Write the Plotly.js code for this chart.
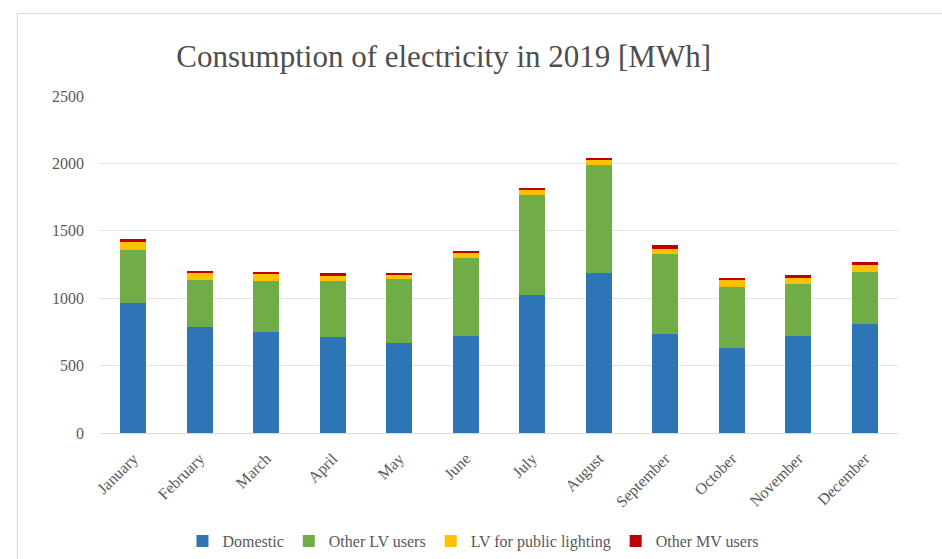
<!DOCTYPE html>
<html>
<head>
<meta charset="utf-8">
<script src="https://cdn.plot.ly/plotly-3.0.1.min.js"></script>
<style>
  html, body { margin: 0; padding: 0; background: #ffffff; overflow: hidden; }
  #frame { position: absolute; left: 17px; top: 13px; width: 1000px; height: 1000px; border: 1px solid #d9d9d9; box-sizing: border-box; }
  #chart { position: absolute; left: 0; top: 0; width: 942px; height: 559px; }
</style>
</head>
<body>
<div id="frame"></div>
<div id="chart"></div>
<script>
const months = ["January", "February", "March", "April", "May", "June", "July", "August", "September", "October", "November", "December"];
const domestic = [967, 784, 751, 714, 668, 722, 1021, 1189, 732, 630, 716, 806];
const otherLV = [391, 351, 379, 416, 472, 578, 745, 799, 593, 455, 387, 391];
const publicLighting = [61, 52, 50, 37, 32, 33, 37, 37, 42, 50, 45, 49];
const otherMV = [18, 17, 17, 18, 17, 17, 17, 17, 25, 17, 24, 20];

const seriesNames = ["Domestic", "Other LV users", "LV for public lighting", "Other MV users"];
const seriesColors = ["#2E75B6", "#70AD47", "#FFC000", "#C00000"];
const seriesValues = [domestic, otherLV, publicLighting, otherMV];

const traces = seriesValues.map((vals, i) => ({
  type: "bar",
  name: seriesNames[i],
  x: months,
  y: vals,
  marker: { color: seriesColors[i] },
  hoverinfo: "x+y+name"
}));

const fontFam = "Liberation Serif, DejaVu Serif, serif";

const layout = {
  width: 942,
  height: 559,
  barmode: "stack",
  bargap: 0.61,
  paper_bgcolor: "rgba(0,0,0,0)",
  plot_bgcolor: "rgba(0,0,0,0)",
  margin: { l: 100, r: 44, t: 96, b: 126, autoexpand: false },
  font: { family: fontFam, color: "#595959", size: 16 },
  title: {
    text: "Consumption of electricity in 2019 [MWh]",
    font: { family: fontFam, size: 31, color: "#4d4d4d" },
    x: 0.471, xanchor: "center",
    y: 0.9, yanchor: "middle", yref: "container"
  },
  xaxis: {
    type: "category",
    automargin: false,
    tickangle: -45,
    showgrid: false,
    showline: true,
    linecolor: "#d9d9d9",
    linewidth: 1,
    ticks: "",
    ticklabelstandoff: 9,
    tickfont: { family: fontFam, size: 16, color: "#595959" }
  },
  yaxis: {
    automargin: false,
    range: [0, 2500],
    dtick: 500,
    tick0: 0,
    showgrid: true,
    gridcolor: "#e3e3e3",
    gridwidth: 1,
    zeroline: false,
    showline: false,
    ticks: "",
    ticklabelstandoff: 15,
    tickfont: { family: fontFam, size: 16, color: "#595959" }
  },
  legend: {
    orientation: "h",
    x: 0.468, xanchor: "center", xref: "paper",
    y: 0.032, yanchor: "middle", yref: "container",
    font: { family: fontFam, size: 16, color: "#595959" },
    itemwidth: 30,
    traceorder: "normal"
  },
  showlegend: true
};

Plotly.newPlot("chart", traces, layout, { displayModeBar: false, staticPlot: true });
</script>
</body>
</html>
